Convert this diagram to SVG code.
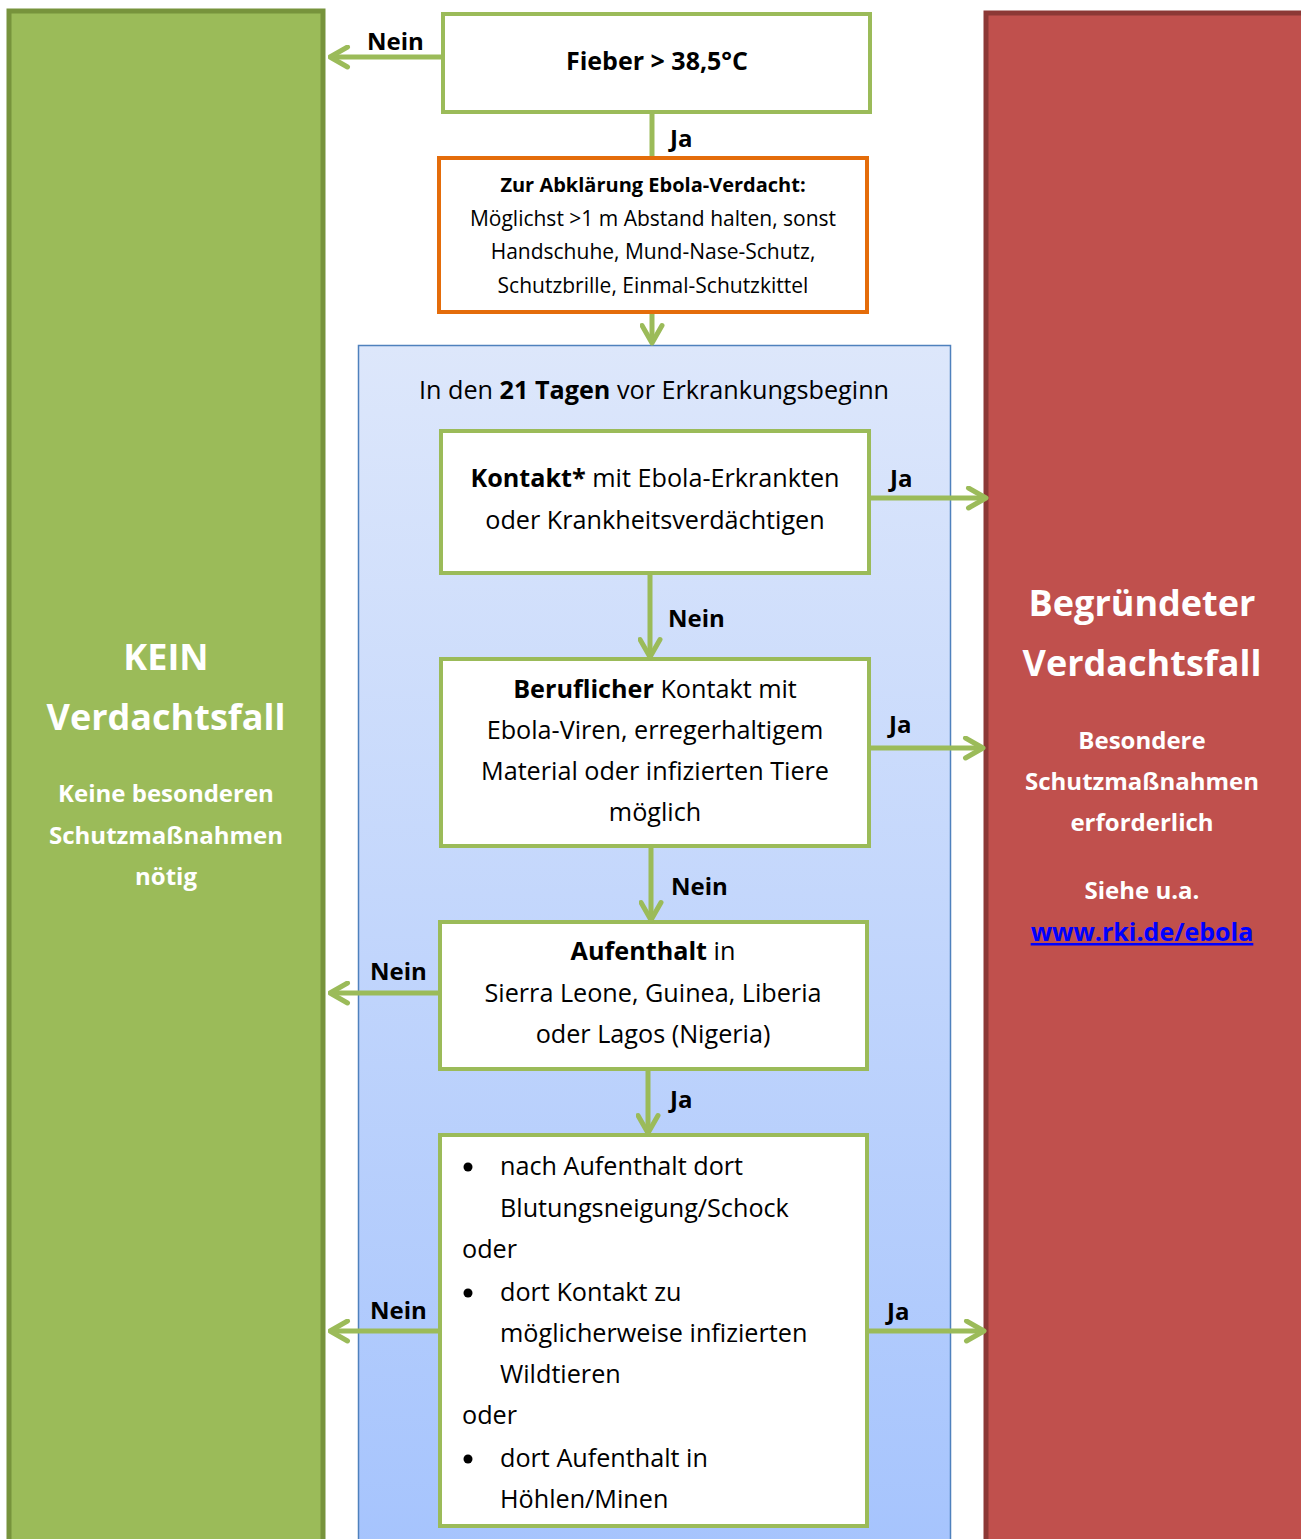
<svg xmlns="http://www.w3.org/2000/svg" width="1301" height="1539" viewBox="0 0 1301 1539">
<style>
text{font-family:"Open Sans",Lato,"Liberation Sans",sans-serif;fill:#000}
.b{font-weight:bold}
.box{fill:#fff;stroke:#9BBB59;stroke-width:4}
.c{text-anchor:middle}
.lbl{font-size:24px;font-weight:bold}
.t24{font-size:25.2px}
.t20{font-size:21px}
.w{fill:#fff;font-weight:bold}
.conn{stroke:#9BBB59;stroke-width:5;fill:none}
</style>
<defs>
<linearGradient id="bg" x1="0" y1="0" x2="0" y2="1">
<stop offset="0" stop-color="#DDE7FB"/>
<stop offset="1" stop-color="#A6C4FD"/>
</linearGradient>
<marker id="ah" viewBox="0 0 10 10" refX="9" refY="5" markerWidth="5" markerHeight="5" orient="auto" markerUnits="strokeWidth">
<path d="M2,1 L9,5 L2,9" fill="none" stroke="#9BBB59" stroke-width="2" stroke-linecap="round" stroke-linejoin="round"/>
</marker>
</defs>
<rect width="1301" height="1539" fill="#fff"/>
<g id="kein">
<rect x="9" y="11" width="314" height="1540" fill="#9BBB59" stroke="#77933C" stroke-width="5"/>
<text class="w c" x="166" y="670" font-size="36">KEIN</text>
<text class="w c" x="166" y="730" font-size="36">Verdachtsfall</text>
<text class="w c" x="166" y="802" font-size="24">Keine besonderen</text>
<text class="w c" x="166" y="844" font-size="24">Schutzmaßnahmen</text>
<text class="w c" x="166" y="885" font-size="24">nötig</text>
</g>
<g id="begruendet">
<rect x="986" y="13" width="320" height="1540" fill="#C0504D" stroke="#8C3836" stroke-width="5"/>
<text class="w c" x="1142" y="616" font-size="36">Begründeter</text>
<text class="w c" x="1142" y="676" font-size="36">Verdachtsfall</text>
<text class="w c" x="1142" y="749" font-size="24">Besondere</text>
<text class="w c" x="1142" y="790" font-size="24">Schutzmaßnahmen</text>
<text class="w c" x="1142" y="831" font-size="24">erforderlich</text>
<text class="w c" x="1142" y="899" font-size="24">Siehe u.a.</text>
<text class="c b" x="1142" y="941" font-size="25" style="fill:#0000FF" text-decoration="underline">www.rki.de/ebola</text>
</g>
<g id="zeitraum">
<rect x="358.5" y="345.5" width="592" height="1200" fill="url(#bg)" stroke="#4F81BD" stroke-width="1.5"/>
<text class="c t24" x="654" y="399">In den <tspan class="b">21 Tagen</tspan> vor Erkrankungsbeginn</text>
</g>
<g id="fieber">
<rect class="box" x="443" y="14" width="427" height="98"/>
<text class="c b" x="657" y="70" font-size="25">Fieber &gt; 38,5°C</text>
</g>
<g id="abklaerung">
<rect x="439" y="158" width="428" height="154" fill="#fff" stroke="#E46C0A" stroke-width="4"/>
<text class="c b" x="653" y="192" font-size="20">Zur Abklärung Ebola-Verdacht:</text>
<text class="c t20" x="653" y="226">Möglichst &gt;1 m Abstand halten, sonst</text>
<text class="c t20" x="653" y="259">Handschuhe, Mund-Nase-Schutz,</text>
<text class="c t20" x="653" y="293">Schutzbrille, Einmal-Schutzkittel</text>
</g>
<g id="kontakt">
<rect class="box" x="441" y="431" width="428" height="142"/>
<text class="c t24" x="655" y="487"><tspan class="b">Kontakt*</tspan> mit Ebola-Erkrankten</text>
<text class="c t24" x="655" y="529">oder Krankheitsverdächtigen</text>
</g>
<g id="beruflich">
<rect class="box" x="441" y="659" width="428" height="187"/>
<text class="c t24" x="655" y="698"><tspan class="b">Beruflicher</tspan> Kontakt mit</text>
<text class="c t24" x="655" y="739">Ebola-Viren, erregerhaltigem</text>
<text class="c t24" x="655" y="780">Material oder infizierten Tiere</text>
<text class="c t24" x="655" y="821">möglich</text>
</g>
<g id="aufenthalt">
<rect class="box" x="440" y="922" width="427" height="147"/>
<text class="c t24" x="653" y="960"><tspan class="b">Aufenthalt</tspan> in</text>
<text class="c t24" x="653" y="1002">Sierra Leone, Guinea, Liberia</text>
<text class="c t24" x="653" y="1043">oder Lagos (Nigeria)</text>
</g>
<g id="kriterien">
<rect class="box" x="440" y="1135" width="427" height="391"/>
<circle cx="468" cy="1167" r="4.5" fill="#000"/>
<text class="t24" x="500" y="1175">nach Aufenthalt dort</text>
<text class="t24" x="500" y="1217">Blutungsneigung/Schock</text>
<text class="t24" x="462" y="1258">oder</text>
<circle cx="468" cy="1293" r="4.5" fill="#000"/>
<text class="t24" x="500" y="1301">dort Kontakt zu</text>
<text class="t24" x="500" y="1342">möglicherweise infizierten</text>
<text class="t24" x="500" y="1383">Wildtieren</text>
<text class="t24" x="462" y="1424">oder</text>
<circle cx="468" cy="1459" r="4.5" fill="#000"/>
<text class="t24" x="500" y="1467">dort Aufenthalt in</text>
<text class="t24" x="500" y="1508">Höhlen/Minen</text>
</g>
<g id="connectors">
<line class="conn" x1="441" y1="57" x2="330" y2="57" marker-end="url(#ah)"/>
<line class="conn" x1="652" y1="114" x2="652" y2="156"/>
<line class="conn" x1="652" y1="314" x2="652" y2="343" marker-end="url(#ah)"/>
<line class="conn" x1="871" y1="498" x2="986" y2="498" marker-end="url(#ah)"/>
<line class="conn" x1="650" y1="575" x2="650" y2="657" marker-end="url(#ah)"/>
<line class="conn" x1="871" y1="748" x2="983" y2="748" marker-end="url(#ah)"/>
<line class="conn" x1="651" y1="848" x2="651" y2="920" marker-end="url(#ah)"/>
<line class="conn" x1="438" y1="993" x2="330" y2="993" marker-end="url(#ah)"/>
<line class="conn" x1="648" y1="1071" x2="648" y2="1133" marker-end="url(#ah)"/>
<line class="conn" x1="438" y1="1331" x2="330" y2="1331" marker-end="url(#ah)"/>
<line class="conn" x1="869" y1="1331" x2="984" y2="1331" marker-end="url(#ah)"/>
<text class="lbl" x="367" y="50">Nein</text>
<text class="lbl" x="670" y="147">Ja</text>
<text class="lbl" x="890" y="487">Ja</text>
<text class="lbl" x="668" y="627">Nein</text>
<text class="lbl" x="889" y="733">Ja</text>
<text class="lbl" x="671" y="895">Nein</text>
<text class="lbl" x="370" y="980">Nein</text>
<text class="lbl" x="670" y="1108">Ja</text>
<text class="lbl" x="370" y="1319">Nein</text>
<text class="lbl" x="887" y="1320">Ja</text>
</g>
</svg>
